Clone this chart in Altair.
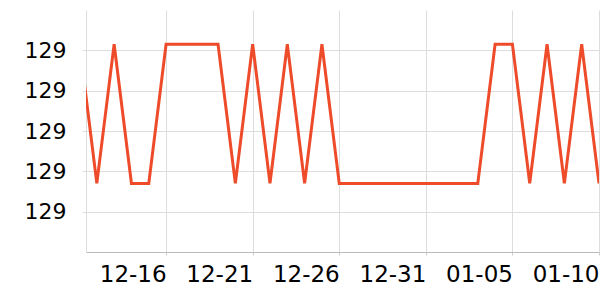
import altair as alt
import pandas as pd

dates = [
    "2023-12-11", "2023-12-12", "2023-12-13", "2023-12-14", "2023-12-15",
    "2023-12-16", "2023-12-17", "2023-12-18", "2023-12-19", "2023-12-20",
    "2023-12-21", "2023-12-22", "2023-12-23", "2023-12-24", "2023-12-25",
    "2023-12-26", "2023-12-27", "2023-12-28", "2023-12-29", "2023-12-30",
    "2023-12-31", "2024-01-01", "2024-01-02", "2024-01-03", "2024-01-04",
    "2024-01-05", "2024-01-06", "2024-01-07", "2024-01-08", "2024-01-09",
    "2024-01-10",
]
values = [
    129.043, 128.974, 129.043, 128.974, 128.974,
    129.043, 129.043, 129.043, 129.043, 128.974,
    129.043, 128.974, 129.043, 128.974, 129.043,
    128.974, 128.974, 128.974, 128.974, 128.974,
    128.974, 128.974, 128.974, 128.974, 129.043,
    129.043, 128.974, 129.043, 128.974, 129.043,
    128.974,
]
y_ticks = [128.96, 128.98, 129.00, 129.02, 129.04]
x_ticks = [(2023, 12, 16), (2023, 12, 21), (2023, 12, 26), (2023, 12, 31),
           (2024, 1, 5), (2024, 1, 10)]

df = pd.DataFrame({"date": [d + "T00:00" for d in dates], "value": values})

chart = alt.Chart(df).mark_line(
    color="#EE4B2B", strokeWidth=3, clip=True
).encode(
    x=alt.X(
        "date:T",
        scale=alt.Scale(domain=[
            alt.DateTime(year=2023, month=12, date=11, hours=9),
            alt.DateTime(year=2024, month=1, date=10),
        ], nice=False),
        axis=alt.Axis(
            title=None, format="%m-%d",
            values=[alt.DateTime(year=y, month=m, date=d) for y, m, d in x_ticks],
            labelAlign="right", labelFontSize=23, labelPadding=8,
            tickSize=3, domainColor="#bbbbbb", tickColor="#cccccc",
            gridColor="#dddddd", labelColor="#000000",
        ),
    ),
    y=alt.Y(
        "value:Q",
        scale=alt.Scale(domain=[128.94, 129.06], nice=False, zero=False),
        axis=alt.Axis(
            title=None, values=y_ticks, format=".0f",
            labelFontSize=22, labelPadding=16, tickSize=4,
            domainColor="#dddddd", tickColor="#dddddd", gridColor="#dddddd",
            labelColor="#000000",
        ),
    ),
).properties(
    width=513, height=242,
    autosize=alt.AutoSizeParams(type="none"),
    padding={"left": 86, "top": 10, "right": 1, "bottom": 48},
).configure_view(stroke=None).configure_axis(labelFont="DejaVu Sans")

chart.save("out.html", embed_options={"renderer": "svg", "actions": False})
